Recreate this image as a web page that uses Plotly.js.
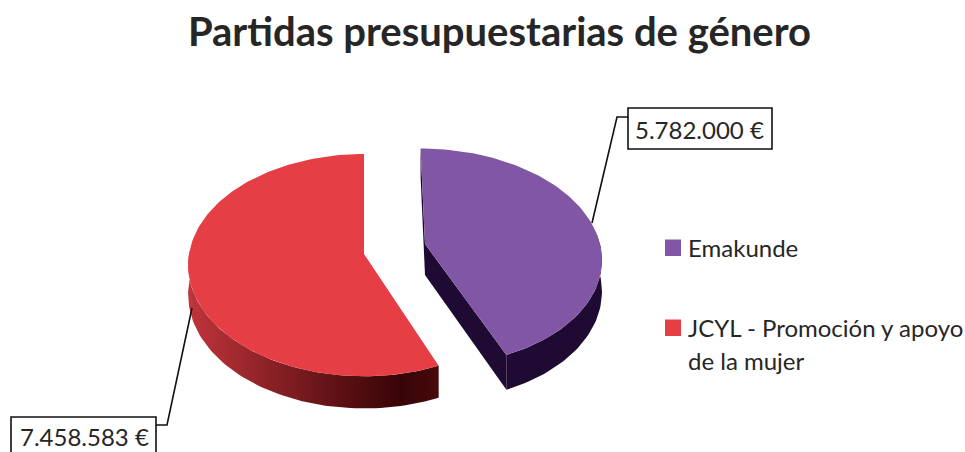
<!DOCTYPE html>
<html><head><meta charset="utf-8">
<script src="https://cdn.plot.ly/plotly-3.0.1.min.js"></script>
<style>html,body{margin:0;padding:0;background:#fff;overflow:hidden}#c{width:965px;height:452px}</style>
</head><body><div id="c"></div>
<script>
const categories = ["Emakunde", "JCYL - Promoción y apoyo<br>de la mujer"];
const values = [5782000, 7458583];
const valueLabels = ["5.782.000 €", "7.458.583 €"];
const chartTitle = "Partidas presupuestarias de género";
const topColors = ["#8157a5", "#e63e45"];
const textColor = "#262626";
const FONT = "Lato, 'Open Sans', sans-serif";

// projection of each exploded slice (page pixels)
const geom = [
  {cx:425, cy:244, rx:175, ry:107, p:.12, lean:5, depth:31, sideFrom:85},
  {cx:364, cy:254, rx:175, ry:110, p:.10, lean:0, depth:29, sideTo:272}
];
const total = values.reduce((a,b)=>a+b,0);
const sweep0 = values[0]/total*360;
function proj(g,deg,down){
  const t=deg*Math.PI/180,u=Math.sin(t),v=-Math.cos(t),s=1/(1-g.p*v);
  return [g.cx+g.rx*u*s+g.lean*v*s, g.cy+g.ry*v*s+(down?g.depth*s:0)];
}
function arc(g,a,b,down){
  const pts=[],n=Math.ceil(Math.abs(b-a)/1.5);
  for(let i=0;i<=n;i++)pts.push(proj(g,a+(b-a)*i/n,down));
  return pts;
}
function poly(pts,extra){
  return Object.assign({x:pts.map(p=>p[0]),y:pts.map(p=>p[1]),type:'scatter',mode:'lines',
    fill:'toself',line:{width:0},hoverinfo:'skip',showlegend:false},extra);
}
const G0=geom[0],G1=geom[1];
const apex0=[G0.cx,G0.cy],apex0d=[G0.cx,G0.cy+G0.depth];
const apex1=[G1.cx,G1.cy];
const dark="#1f0a33";
const traces=[
  poly(arc(G0,G0.sideFrom,sweep0,false).concat(arc(G0,sweep0,G0.sideFrom,true)),{fillcolor:dark}),
  poly([apex0,proj(G0,sweep0,false),proj(G0,sweep0,true),apex0d],{fillcolor:dark}),
  poly([proj(G0,0,false),apex0,apex0d,proj(G0,0,true)],{fillcolor:dark}),
  poly([apex0].concat(arc(G0,0,sweep0,false)),{fillcolor:topColors[0]}),
  poly(arc(G1,sweep0,G1.sideTo,false).concat(arc(G1,G1.sideTo,sweep0,true)),{
    fillgradient:{type:'horizontal',colorscale:[[0,'#c0353b'],[0.3,'#8f2328'],[0.6,'#5e1115'],[0.85,'#380507'],[1,'#470a0b']]}}),
  poly([apex1].concat(arc(G1,sweep0,360,false)),{fillcolor:topColors[1]}),
];

const line={color:'#111',width:1.6};
const legendRows=[248,328];
const shapes=[
  {type:'path',path:'M592,223 L617,117 L628,117',line},
  {type:'path',path:'M192,308 L167,425 L156,425',line},
  {type:'rect',x0:628,x1:772,y0:108,y1:149,line},
  {type:'rect',x0:11,x1:156,y0:417,y1:470,line}
].concat(categories.map((c,i)=>({type:'rect',x0:665,x1:681,y0:legendRows[i]-8.5,y1:legendRows[i]+8,
  fillcolor:topColors[i],line:{width:0}}))).map(s=>Object.assign({xref:'x',yref:'y',layer:'above'},s));
const base={xref:'x',yref:'y',showarrow:false,font:{family:FONT,size:24,color:textColor},yanchor:'middle'};
const annotations=[
  {x:699.5,y:129,text:valueLabels[0],xanchor:'center'},
  {x:84,y:436,text:valueLabels[1],xanchor:'center'}
];
categories.forEach((c,i)=>c.split('<br>').forEach((t,j)=>
  annotations.push({x:688,y:legendRows[i]-1+33*j,text:t,xanchor:'left',xshift:-2})));

Plotly.newPlot('c',traces,{
  width:965,height:452,margin:{l:0,r:0,t:0,b:0},
  paper_bgcolor:'#fff',plot_bgcolor:'#fff',
  title:{text:chartTitle,font:{family:FONT,size:40,color:textColor,weight:700},x:0.5176,xanchor:'center',y:0.93,yanchor:'middle'},
  xaxis:{range:[0,965],visible:false,fixedrange:true},
  yaxis:{range:[452,0],visible:false,fixedrange:true},
  showlegend:false,
  shapes,annotations:annotations.map(a=>Object.assign({},base,a))
},{displayModeBar:false,staticPlot:true});
</script></body></html>
